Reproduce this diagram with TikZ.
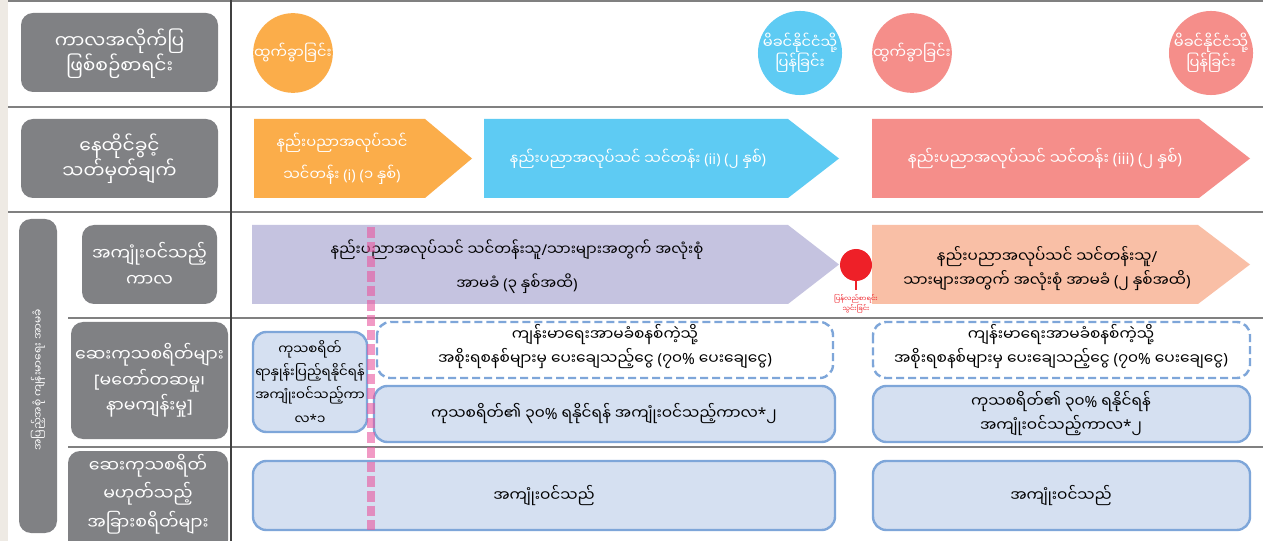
\documentclass[tikz,border=0pt]{standalone}
\usepackage{fontspec}
\setmainfont{Noto Sans}
\newfontfamily\my[Script=Myanmar]{Noto Sans Myanmar UI}
\newfontfamily\lat{Noto Sans}
\newcommand\lp{{\lat(}}
\newcommand\rp{{\lat)}}
\newcommand\pct{{\lat\%}}
\newcommand\slsh{{\lat/}}
\newcommand\astr{{\lat*}}
\newcommand\lbr{{\lat[}}
\newcommand\rbr{{\lat]}}
\definecolor{strip}{HTML}{EEEAE4}
\definecolor{gridc}{HTML}{808080}
\definecolor{hdrgray}{HTML}{808184}
\definecolor{orangec}{HTML}{FBAD4A}
\definecolor{bluec}{HTML}{5ECBF3}
\definecolor{pinkc}{HTML}{F58E8A}
\definecolor{purplec}{HTML}{C5C3E0}
\definecolor{peachc}{HTML}{F9BFA6}
\definecolor{lbfill}{HTML}{D5E0F1}
\definecolor{lbdraw}{HTML}{7EA6D9}
\definecolor{redc}{HTML}{EE2028}
\definecolor{markc}{HTML}{E9579F}
\tikzset{
  gridline/.style={draw=gridc, line width=1.5pt},
  hdr/.style={fill=hdrgray, rounded corners=9pt},
  hdrtext/.style={text=white, align=center, font=\my\fontsize{14}{19}\selectfont},
  hdrtextb/.style={text=white, align=center, font=\my\fontsize{13}{19}\selectfont},
  evcirc/.style={circle, minimum size=58.5pt, inner sep=0pt, text=white, align=center, font=\my\fontsize{11}{15}\selectfont},
  arrtext/.style={text=white, align=center, font=\my\fontsize{11}{24}\selectfont},
  covtext/.style={text=black, align=center, font=\my\fontsize{11.2}{25.5}\selectfont},
  solidbox/.style={fill=lbfill, draw=lbdraw, line width=1.8pt, rounded corners=10pt},
  dashbox/.style={fill=white, draw=lbdraw, line width=1.8pt, dash pattern=on 6pt off 3pt, rounded corners=10pt},
  boxtext/.style={text=black, align=center, font=\my\fontsize{11.5}{18}\selectfont},
  smalltext/.style={text=black, align=center, font=\my\fontsize{10}{17.5}\selectfont},
}
\begin{document}
\begin{tikzpicture}[x=0.75pt,y=-0.75pt]
\useasboundingbox (0,0) rectangle (1263,541);
\fill[white] (0,0) rectangle (1263,541);
\fill[strip] (0,0) rectangle (8,541);
% grid
\draw[gridline] (8,1) -- (1263,1);
\draw[gridline] (8,107) -- (1263,107);
\draw[gridline] (8,212) -- (1263,212);
\draw[gridline] (68,318) -- (1263,318);
\draw[gridline] (68,447) -- (1263,447);
\draw[draw=black!75, line width=0.8pt] (231,0) -- (231,541);
% left headers
\path[hdr] (21,13) rectangle (218,92);
\node[hdrtext] (h1) at (119.5,54) {ကာလအလိုက်ပြ\\ဖြစ်စဉ်စာရင်း};
\path[hdr] (21,119) rectangle (218,198);
\node[hdrtext] (h2) at (119.5,159) {နေထိုင်ခွင့်\\သတ်မှတ်ချက်};
\path[hdr] (19,219) rectangle (57,533);
\node[text=white, rotate=90, font=\my\fontsize{8}{10}\selectfont] (grp) at (38,380) {အပြည့်အစုံ ကျန်းမာရေး အာမခံ};
\path[hdr] (82,225) rectangle (217,304);
\node[hdrtextb] (h3) at (149.5,264.5) {အကျုံးဝင်သည့်\\ကာလ};
\path[hdr] (71,322) rectangle (228,439);
\node[hdrtextb] (h4) at (149.5,380.5) {ဆေးကုသစရိတ်များ\\\lbr မတော်တဆမှု၊\\နာမကျန်းမှု\rbr};
\path[hdr] (68,451) rectangle (228,552);
\node[hdrtextb, font=\my\fontsize{13}{21.5}\selectfont] (h5) at (148,494) {ဆေးကုသစရိတ်\\မဟုတ်သည့်\\အခြားစရိတ်များ};
% row 1 events
\node[evcirc, fill=orangec] (e1) at (293,53) {ထွက်ခွာခြင်း};
\node[evcirc, fill=bluec] (e2) at (800,53) {မိခင်နိုင်ငံသို့\\ပြန်ခြင်း};
\node[evcirc, fill=pinkc] (e3) at (912,53) {ထွက်ခွာခြင်း};
\node[evcirc, fill=pinkc] (e4) at (1211,53) {မိခင်နိုင်ငံသို့\\ပြန်ခြင်း};
% row 2 status arrows
\fill[orangec] (254,119) -- (425,119) -- (472,158.5) -- (425,198) -- (254,198) -- cycle;
\node[arrtext] (s1) at (342,159) {နည်းပညာအလုပ်သင်\\သင်တန်း {\lat (i)} \lp ၁ နှစ်\rp};
\fill[bluec] (484,119) -- (788,119) -- (839,158.5) -- (788,198) -- (484,198) -- cycle;
\node[arrtext] (s2) at (638,158.5) {နည်းပညာအလုပ်သင် သင်တန်း {\lat (ii)} \lp ၂ နှစ်\rp};
\fill[pinkc] (872,119) -- (1199,119) -- (1250,158.5) -- (1199,198) -- (872,198) -- cycle;
\node[arrtext, font=\my\fontsize{11.6}{24}\selectfont] (s3) at (1045,158.5) {နည်းပညာအလုပ်သင် သင်တန်း {\lat (iii)} \lp ၂ နှစ်\rp};
% row 3 coverage
\fill[purplec] (252,225) -- (788,225) -- (839,264.5) -- (788,304) -- (252,304) -- cycle;
\node[covtext] (c1) at (517,267) {နည်းပညာအလုပ်သင် သင်တန်းသူ\slsh သားများအတွက် အလုံးစုံ\\အာမခံ \lp ၃ နှစ်အထိ\rp};
\fill[peachc] (872,225) -- (1198,225) -- (1250,264.5) -- (1198,304) -- (872,304) -- cycle;
\node[covtext, font=\my\fontsize{11.4}{17.5}\selectfont] (c2) at (1047,268.5) {နည်းပညာအလုပ်သင် သင်တန်းသူ\slsh\\သားများအတွက် အလုံးစုံ အာမခံ \lp ၂ နှစ်အထိ\rp};
\node[circle, fill=redc, minimum size=24pt, inner sep=0pt] (rd) at (856,265) {};
\coordinate (rdend) at (856,290);
\draw[redc, line width=1pt] (rd.south) -- (rdend);
\node[text=redc, align=center, font=\my\fontsize{5}{7}\selectfont, anchor=north] (rdt) at (rdend) {ပြန်လည်စာရင်း\\သွင်းခြင်း};
% row 4 medical
\path[solidbox] (253,332) rectangle (367,432);
\node[smalltext] (m0) at (310,382) {ကုသစရိတ်\\ရာနှုန်းပြည့်ရနိုင်ရန်\\အကျုံးဝင်သည့်ကာ\\လ\astr ၁};
\path[dashbox] (377,322) rectangle (833,378);
\node[boxtext] (m1) at (605,347) {ကျန်းမာရေးအာမခံစနစ်ကဲ့သို့\\အစိုးရစနစ်များမှ ပေးချေသည့်ငွေ \lp ၇၀\pct\ ပေးချေငွေ\rp};
\path[solidbox] (374,386) rectangle (835,442);
\node[boxtext] (m2) at (604,414) {ကုသစရိတ်၏ ၃၀\pct\ ရနိုင်ရန် အကျုံးဝင်သည့်ကာလ\astr ၂};
\path[dashbox] (873,322) rectangle (1250,378);
\node[boxtext] (m3) at (1061,347) {ကျန်းမာရေးအာမခံစနစ်ကဲ့သို့\\အစိုးရစနစ်များမှ ပေးချေသည့်ငွေ \lp ၇၀\pct\ ပေးချေငွေ\rp};
\path[solidbox] (873,386) rectangle (1250,442);
\node[boxtext] (m4) at (1061,414) {ကုသစရိတ်၏ ၃၀\pct\ ရနိုင်ရန်\\အကျုံးဝင်သည့်ကာလ\astr ၂};
% row 5 other
\path[solidbox] (253,461) rectangle (835,530);
\node[boxtext] (o1) at (544,495.5) {အကျုံးဝင်သည်};
\path[solidbox] (873,461) rectangle (1250,530);
\node[boxtext] (o2) at (1061,495.5) {အကျုံးဝင်သည်};
% pink marker line
\coordinate (mk1) at (371,227);
\coordinate (mk2) at (371,530);
\draw[markc, opacity=0.6, line width=6pt, dash pattern=on 8pt off 3pt] (mk1) -- (mk2);
\end{tikzpicture}
\end{document}
